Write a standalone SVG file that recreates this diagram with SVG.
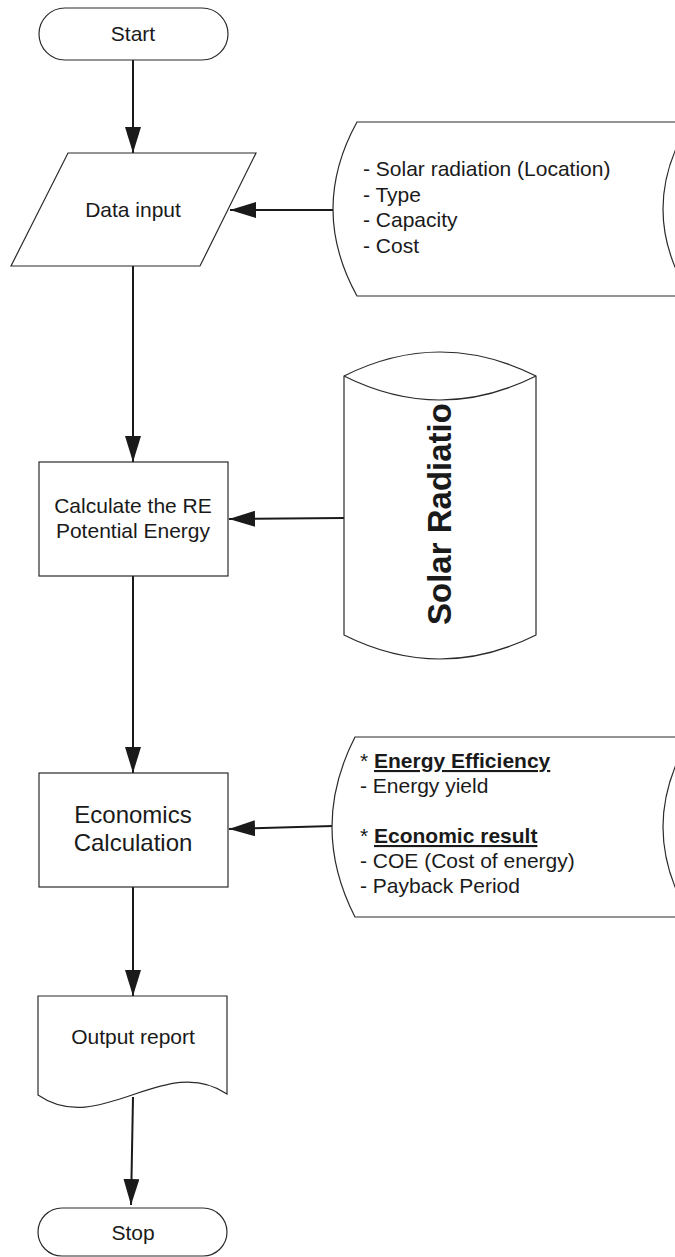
<svg xmlns="http://www.w3.org/2000/svg" width="675" height="1257" viewBox="0 0 675 1257">
<style>
.shape{fill:#fff;stroke:#2a2a2a;stroke-width:1.2}
.conn{fill:none;stroke:#1a1a1a;stroke-width:2}
.t{font-family:"Liberation Sans",Arial,sans-serif;font-size:21px;fill:#1a1a1a}
.c{text-anchor:middle}
.b{font-weight:bold}
</style>
<defs>
<marker id="arr" viewBox="0 0 26 16" markerWidth="26" markerHeight="16" refX="26" refY="8" orient="auto" markerUnits="userSpaceOnUse">
<path d="M0,0 L26,8 L0,16 z" fill="#1a1a1a"/>
</marker>
</defs>
<rect width="675" height="1257" fill="#fff"/>
<g id="connectors">
<line class="conn" x1="133" y1="60" x2="133" y2="153" marker-end="url(#arr)"/>
<line class="conn" x1="335" y1="210" x2="230" y2="210" marker-end="url(#arr)"/>
<line class="conn" x1="133" y1="266" x2="133" y2="462" marker-end="url(#arr)"/>
<line class="conn" x1="344" y1="518" x2="229" y2="519" marker-end="url(#arr)"/>
<line class="conn" x1="133" y1="576" x2="133" y2="773" marker-end="url(#arr)"/>
<line class="conn" x1="333" y1="826" x2="229" y2="829" marker-end="url(#arr)"/>
<line class="conn" x1="133" y1="887" x2="133" y2="996" marker-end="url(#arr)"/>
<line class="conn" x1="133" y1="1097" x2="131" y2="1205" marker-end="url(#arr)"/>
</g>
<g id="start">
<rect class="shape" x="39" y="8" width="189" height="52" rx="26"/>
<text class="t c" x="133" y="41">Start</text>
</g>
<g id="data-input">
<polygon class="shape" points="68,153 256,153 200,266 11,266"/>
<text class="t c" x="133" y="217">Data input</text>
</g>
<g id="input-data">
<path class="shape" d="M357,122 H690 Q636,209 690,296 H357 Q309,209 357,122 z"/>
<text class="t" x="363" y="176">- Solar radiation (Location)</text>
<text class="t" x="363" y="202">- Type</text>
<text class="t" x="363" y="227">- Capacity</text>
<text class="t" x="363" y="253">- Cost</text>
</g>
<g id="calculate">
<rect class="shape" x="39" y="462" width="189" height="114"/>
<text class="t c" x="133" y="513">Calculate the RE</text>
<text class="t c" x="133" y="538">Potential Energy</text>
</g>
<g id="solar-db">
<path class="shape" d="M344,376 Q440,328 536,376 V635 Q440,683 344,635 z"/>
<path class="shape" d="M344,376 Q440,424 536,376" fill="none"/>
<text class="t b" font-size="33" transform="translate(451,625) rotate(-90)" style="font-size:33px">Solar Radiatio</text>
</g>
<g id="economics">
<rect class="shape" x="39" y="773" width="189" height="114"/>
<text class="t c" x="133" y="823" style="font-size:24px">Economics</text>
<text class="t c" x="133" y="851" style="font-size:24px">Calculation</text>
</g>
<g id="results">
<path class="shape" d="M355,737 H690 Q636,827 690,917 H355 Q309,827 355,737 z"/>
<text class="t" x="360" y="768">* <tspan class="b" text-decoration="underline">Energy Efficiency</tspan></text>
<text class="t" x="360" y="793">- Energy yield</text>
<text class="t" x="360" y="843">* <tspan class="b" text-decoration="underline">Economic result</tspan></text>
<text class="t" x="360" y="868">- COE (Cost of energy)</text>
<text class="t" x="360" y="893">- Payback Period</text>
</g>
<g id="output">
<path class="shape" d="M38,996 H227 V1094 C165,1052 100,1138 38,1095 z"/>
<text class="t c" x="133" y="1044">Output report</text>
</g>
<g id="stop">
<rect class="shape" x="38" y="1208" width="189" height="48" rx="24"/>
<text class="t c" x="133" y="1240">Stop</text>
</g>
</svg>
